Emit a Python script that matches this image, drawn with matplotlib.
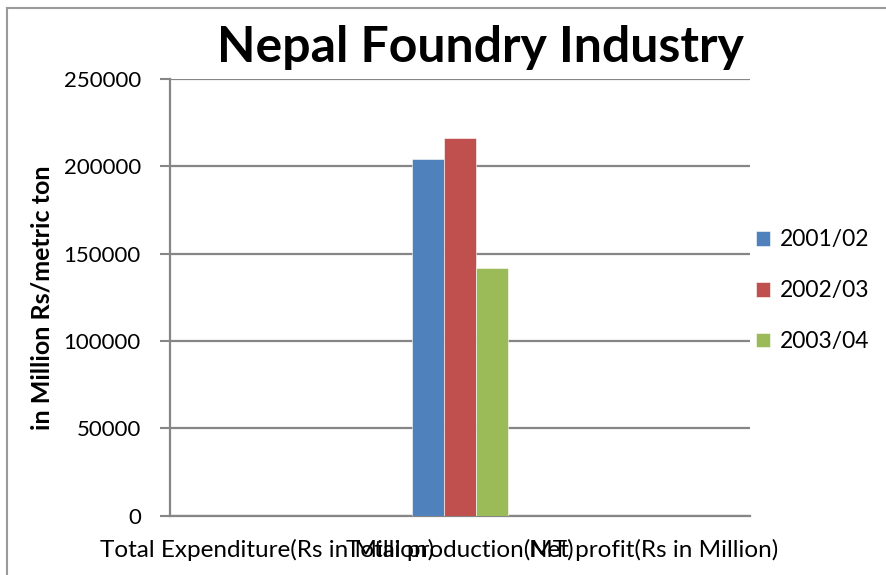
import numpy as np
import matplotlib
matplotlib.use("Agg")
import matplotlib.pyplot as plt
from matplotlib.lines import Line2D

plt.rcParams['font.family'] = ['Lato', 'DejaVu Sans']

categories = ["Total Expenditure(Rs in Million)", "Total production(MT)",
              "Net profit(Rs in Million)"]
series = ["2001/02", "2002/03", "2003/04"]
values_0102 = [0, 204000, 0]
values_0203 = [0, 216000, 0]
values_0304 = [0, 142000, 0]
colors = ["#4F81BD", "#C0504D", "#9BBB59"]
yticks = [0, 50000, 100000, 150000, 200000, 250000]

fig = plt.figure(figsize=(8.87, 5.75), dpi=100)
ax = fig.add_axes([170 / 887, 1 - 515.5 / 575, 580 / 887, 436.5 / 575])

x = np.arange(len(categories))
w = 0.166
for i, (vals, name) in enumerate(zip([values_0102, values_0203, values_0304], series)):
    ax.bar(x + (i - 1) * w, vals, w, color=colors[i], label=name, zorder=3,
           edgecolor="white", linewidth=0.4)

ax.set_xlim(-0.5, 2.5)
ax.set_ylim(0, 250000)
ax.set_yticks(yticks)
ax.set_yticklabels([str(v) for v in yticks], fontsize=16)
ax.set_xticks(x)
ax.set_xticklabels(categories, fontsize=17.5)
ax.tick_params(axis='x', length=0, pad=17)
ax.tick_params(axis='y', length=7, width=1.5, color="#868686", pad=14)

ax.grid(axis='y', color="#868686", linewidth=1.6, zorder=0)
for s in ["top", "right"]:
    ax.spines[s].set_visible(False)
for s in ["left", "bottom"]:
    ax.spines[s].set_color("#868686")
    ax.spines[s].set_linewidth(1.6)

ax.set_ylabel("in Million Rs/metric ton", fontsize=18, fontweight="bold", labelpad=7)

fig.text(480 / 887, 1 - 47 / 575, "Nepal Foundry Industry", ha="center", va="center",
         fontsize=36, fontweight="bold")

leg = ax.legend(loc="center left", bbox_to_anchor=(0.974, 0.515), frameon=False,
                fontsize=16.5, handlelength=0.62, handleheight=0.62,
                handletextpad=0.45, labelspacing=1.3)

# chart frame
fig.add_artist(Line2D([7 / 887, 7 / 887], [0, 1 - 8 / 575], color="#9a9a9a", lw=1.5))
fig.add_artist(Line2D([7 / 887, 1], [1 - 8 / 575, 1 - 8 / 575], color="#9a9a9a", lw=1.5))

fig.savefig("out.png", dpi=100)
